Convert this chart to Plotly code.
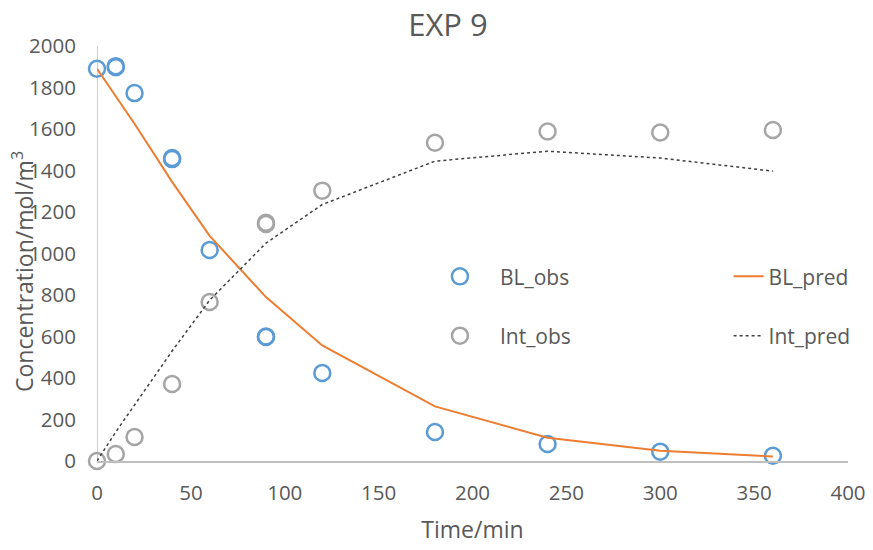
import plotly.graph_objects as go

# Observed data
bl_obs_t = [0, 10, 10, 20, 40, 40, 60, 90, 90, 120, 180, 240, 300, 360]
bl_obs_c = [1890, 1898, 1903, 1773, 1455, 1460, 1017, 598, 600, 424, 140, 82, 45, 25]
int_obs_t = [0, 10, 20, 40, 60, 90, 90, 120, 180, 240, 300, 360]
int_obs_c = [0, 34, 116, 371, 766, 1142, 1148, 1303, 1534, 1588, 1583, 1595]

# Predicted data
pred_t = [0, 10, 20, 40, 60, 90, 120, 180, 240, 300, 360]
bl_pred = [1890, 1755, 1625, 1345, 1085, 790, 557, 263, 112, 50, 22]
int_pred = [0, 140, 270, 530, 775, 1050, 1236, 1445, 1493, 1460, 1397]

x_ticks = [0, 50, 100, 150, 200, 250, 300, 350, 400]
y_ticks = [0, 200, 400, 600, 800, 1000, 1200, 1400, 1600, 1800, 2000]

FONT = "Open Sans"
TXT = "#595959"
W, H = 865, 542  # page body has an 8px margin

fig = go.Figure()
fig.add_trace(go.Scatter(
    x=bl_obs_t, y=bl_obs_c, mode="markers", name="BL_obs",
    marker=dict(symbol="circle-open", size=16, color="#5B9BD5", line=dict(width=2.5, color="#5B9BD5")),
    cliponaxis=False, legend="legend", legendgroup="a"))
fig.add_trace(go.Scatter(
    x=int_obs_t, y=int_obs_c, mode="markers", name="Int_obs",
    marker=dict(symbol="circle-open", size=16, color="#A5A5A5", line=dict(width=2.5, color="#A5A5A5")),
    cliponaxis=False, legend="legend", legendgroup="b"))
fig.add_trace(go.Scatter(
    x=pred_t, y=bl_pred, mode="lines", name="BL_pred",
    line=dict(color="#ED7D31", width=2), legend="legend2", legendgroup="c"))
fig.add_trace(go.Scatter(
    x=pred_t, y=int_pred, mode="lines", name="Int_pred",
    line=dict(color="#404040", width=1.5, dash="dot"), legend="legend2", legendgroup="d"))

legend_common = dict(
    font=dict(family=FONT, size=21, color=TXT),
    bgcolor="rgba(0,0,0,0)", traceorder="grouped", tracegroupgap=29,
    yanchor="middle", xanchor="left", y=0.373)

fig.update_layout(
    width=W, height=H,
    margin=dict(l=89, r=25, t=38, b=89, autoexpand=False),
    paper_bgcolor="white", plot_bgcolor="white",
    font=dict(family=FONT, color=TXT),
    title=dict(text="EXP 9", x=(448 - 8) / W, xanchor="center", y=1 - 17 / H, yanchor="middle",
               xref="container", yref="container", automargin=False,
               font=dict(family=FONT, size=31, color=TXT)),
    legend=dict(x=0.430, itemwidth=70, **legend_common),
    legend2=dict(x=0.841, itemwidth=30, **legend_common),
    xaxis=dict(range=[0, 400], tickvals=x_ticks, showgrid=False, zeroline=False,
               showline=True, linecolor="#BFBFBF", linewidth=1.5, ticks="",
               ticklabelstandoff=13, automargin=False,
               tickfont=dict(family=FONT, size=20.5, color=TXT),
               title=dict(text="Time/min", font=dict(family=FONT, size=23, color=TXT), standoff=17)),
    yaxis=dict(range=[0, 2000], tickvals=y_ticks, showgrid=False, zeroline=False,
               showline=False, ticks="", ticklabelstandoff=20, automargin=False,
               tickfont=dict(family=FONT, size=20.5, color=TXT)),
    showlegend=True,
)
# y-axis title placed as rotated text
fig.add_annotation(text="Concentration/mol/m<sup>3</sup>", textangle=-90,
                   xref="paper", yref="paper", x=(23 - 8 - 89) / 751, y=(453 - (272 - 8)) / 415,
                   xanchor="center", yanchor="middle", showarrow=False,
                   font=dict(family=FONT, size=23, color=TXT))
# y axis line drawn at x=0
fig.add_shape(type="line", xref="x", yref="y", x0=0, x1=0, y0=0, y1=2000,
              line=dict(color="#BFBFBF", width=1.5), layer="below")

fig.write_html("out.html")
